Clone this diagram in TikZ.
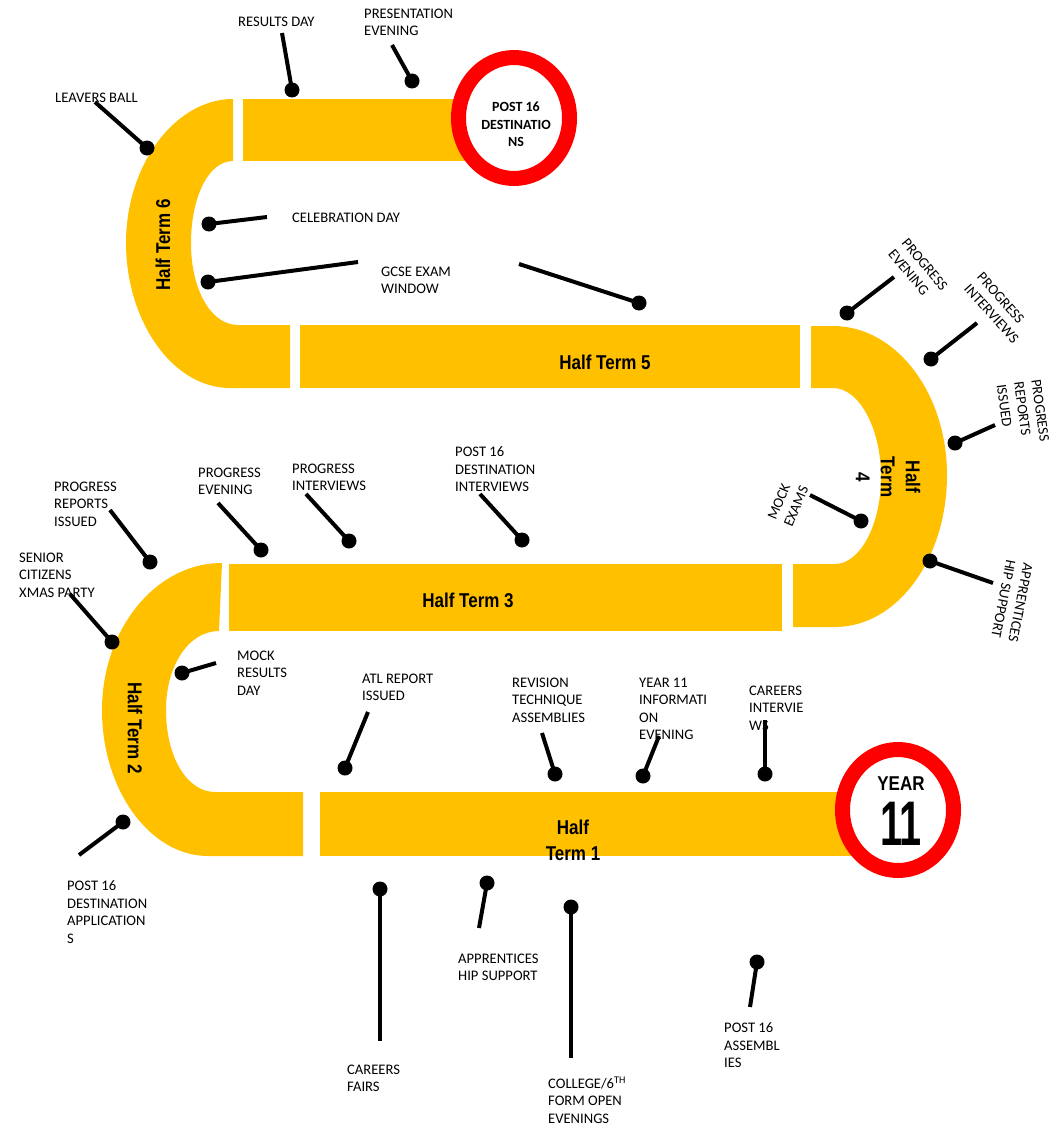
\documentclass[tikz,border=0pt]{standalone}
\usepackage{fontspec}
\setmainfont{Carlito}
\newfontfamily\termfont{Liberation Sans}[FakeStretch=0.85]
\usepackage{graphicx}
\usetikzlibrary{shapes.geometric}
\definecolor{gold}{HTML}{FFC000}
\definecolor{ringred}{HTML}{FF0000}
\newcommand\stickpin[3]{%
  \coordinate (#1e) at (#2);
  \coordinate (#1d) at (#3);
  \draw[stick] (#1e) -- (#1d);
  \fill (#1d) circle (7.5pt);}
\begin{document}
\begin{tikzpicture}[x=1pt,y=-1pt,
  stick/.style={line width=4pt},
  lbl/.style={font=\fontsize{14.6}{17.5}\selectfont, align=left, inner sep=0pt, anchor=north west},
  rlbl/.style={font=\fontsize{14.6}{17.5}\selectfont, align=left, inner sep=0pt, anchor=center},
  term/.style={font=\termfont\bfseries\fontsize{20}{25}\selectfont, inner sep=0pt, align=center},
  ring/.style={ellipse, draw=ringred, line width=15pt, fill=white, minimum width=111pt, minimum height=121pt, inner sep=0pt}]
\useasboundingbox (0,0) rectangle (1051,1124);

% ---- track ----
% Half term 6 (C shape) and top straight
\fill[gold] (233,99) .. controls (175,99) and (126,165) .. (126,243)
  .. controls (126,320) and (172,388) .. (230,388) -- (290,388) -- (290,325) -- (238,325)
  .. controls (211,325) and (191,290) .. (191,243)
  .. controls (191,198) and (208,161) .. (233,161) -- cycle;
\fill[gold] (243,99) rectangle (480,161);
% Half term 5
\fill[gold] (300,325) rectangle (800,388);
% Half term 4 (D shape)
\fill[gold] (811,326) -- (833,326) .. controls (896,326) and (947,393) .. (947,475)
  .. controls (947,559) and (897,627) .. (835,627) -- (793,627) -- (793,564) -- (835,564)
  .. controls (860,564) and (881,525) .. (881,477)
  .. controls (881,428) and (859,388) .. (833,388) -- (811,388) -- cycle;
% Half term 3
\fill[gold] (229,564) rectangle (782,631);
% Half term 2 (C shape)
\fill[gold] (222,563) .. controls (155,563) and (102,630) .. (102,710)
  .. controls (102,790) and (150,856) .. (208,856) -- (303,856) -- (303,792) -- (215,792)
  .. controls (187,792) and (166,757) .. (166,710)
  .. controls (166,665) and (189,631) .. (219,631) -- cycle;
% Half term 1
\fill[gold] (320,792) rectangle (870,856);

% ---- rings ----
\node[ring] (post16ring) at (514,118) {};
\node[ring] (y11ring) at (898,810) {};
\node[font=\bfseries\fontsize{14}{17.5}\selectfont, align=center, inner sep=0pt] (post16txt) at (516,124.5) {POST 16\\DESTINATIO\\NS};
\node[font=\termfont\bfseries\fontsize{20}{20}\selectfont, inner sep=0pt] (yeartxt) at (901,784) {YEAR};
\node[font=\termfont\bfseries\fontsize{63}{63}\selectfont, inner sep=0pt] (eleventxt) at (901,823.5) {\scalebox{0.74}[1]{11}};

% ---- term labels ----
\node[term, rotate=90] (ht6) at (163,245) {Half Term 6};
\node[term] (ht5) at (605,362) {Half Term 5};
\node[term, rotate=-90] (ht4) at (888,477) {Half\\Term\\4};
\node[term] (ht3) at (468,600) {Half Term 3};
\node[term, rotate=-90] (ht2) at (135,728) {Half Term 2};
\node[term, font=\termfont\bfseries\fontsize{20}{26}\selectfont] (ht1) at (573,840) {Half\\Term 1};

% ---- event labels ----
\node[lbl] (lresults) at (238,16.5) {RESULTS DAY};
\node[lbl] (lpresent) at (364,8.5) {PRESENTATION\\EVENING};
\node[lbl] (lleavers) at (55,92.5) {LEAVERS BALL};
\node[lbl] (lceleb) at (292,212.5) {CELEBRATION DAY};
\node[lbl] (lgcse) at (381,266.5) {GCSE EXAM\\WINDOW};
\node[rlbl, rotate=-50] (lprogeve4) at (918,270) {PROGRESS\\EVENING};
\node[rlbl, rotate=-48] (lprogint4) at (998,308) {PROGRESS\\INTERVIEWS};
\node[rlbl, rotate=-82] (lprogrep4) at (1023,413) {PROGRESS\\REPORTS\\ISSUED};
\node[rlbl, rotate=67] (lmock) at (788,503) {MOCK\\EXAMS};
\node[rlbl, rotate=-101] (lappr4) at (1012,601) {APPRENTICES\\HIP SUPPORT};
\node[lbl] (lprogrep2) at (54,481.5) {PROGRESS\\REPORTS\\ISSUED};
\node[lbl] (lsenior) at (19,552.5) {SENIOR\\CITIZENS\\XMAS PARTY};
\node[lbl] (lprogeve3) at (198,467.5) {PROGRESS\\EVENING};
\node[lbl] (lprogint3) at (292,463.5) {PROGRESS\\INTERVIEWS};
\node[lbl] (lpost16int) at (455,446.5) {POST 16\\DESTINATION\\INTERVIEWS};
\node[lbl] (lmockres) at (237,650.5) {MOCK\\RESULTS\\DAY};
\node[lbl] (latl) at (362,673.5) {ATL REPORT\\ISSUED};
\node[lbl] (lrevision) at (512,677.5) {REVISION\\TECHNIQUE\\ASSEMBLIES};
\node[lbl] (lyear11) at (639,677.5) {YEAR 11\\INFORMATI\\ON\\EVENING};
\node[lbl] (lcareersint) at (749,685.5) {CAREERS\\INTERVIE\\WS};
\node[lbl] (lpost16app) at (67,880.5) {POST 16\\DESTINATION\\APPLICATION\\S};
\node[lbl] (lfairs) at (347,1064.5) {CAREERS\\FAIRS};
\node[lbl] (lappr1) at (458,953.5) {APPRENTICES\\HIP SUPPORT};
\node[lbl] (lcollege) at (548,1076.5) {COLLEGE/6\textsuperscript{TH}\\FORM OPEN\\EVENINGS};
\node[lbl] (lassem) at (724,1022.5) {POST 16\\ASSEMBL\\IES};

% ---- pins ----
\stickpin{results}{282,33}{292,90}
\stickpin{present}{392,45}{412,81}
\stickpin{leavers}{95,102}{147,148}
\stickpin{celeb}{267,217}{209,224}
\stickpin{gcsea}{358,262}{208,282}
\stickpin{gcseb}{519,264}{639,303}
\stickpin{progeve4}{894,277}{847,313}
\stickpin{progint4}{977,323}{931,359}
\stickpin{progrep4}{995,425}{955,443}
\stickpin{mock}{810,495}{861,521}
\stickpin{appr4}{993,583}{930,561}
\stickpin{progrep2}{110,510}{150,562}
\stickpin{senior}{70,594}{112,642}
\stickpin{progeve3}{218,503}{261,550}
\stickpin{progint3}{306,494}{349,541}
\stickpin{post16int}{480,494}{522,540}
\stickpin{mockres}{216,663}{182,673}
\stickpin{atl}{368,712}{345,768}
\stickpin{revision}{542,733}{555,774}
\stickpin{year11}{659,736}{643,776}
\stickpin{careersint}{765,720}{765,774}
\stickpin{post16app}{79,855}{123,822}
\stickpin{fairs}{380,1041}{380,889}
\stickpin{appr1}{479,928}{487,883}
\stickpin{college}{571,1058}{571,907}
\stickpin{assem}{750,1007}{757,962}
\end{tikzpicture}
\end{document}
